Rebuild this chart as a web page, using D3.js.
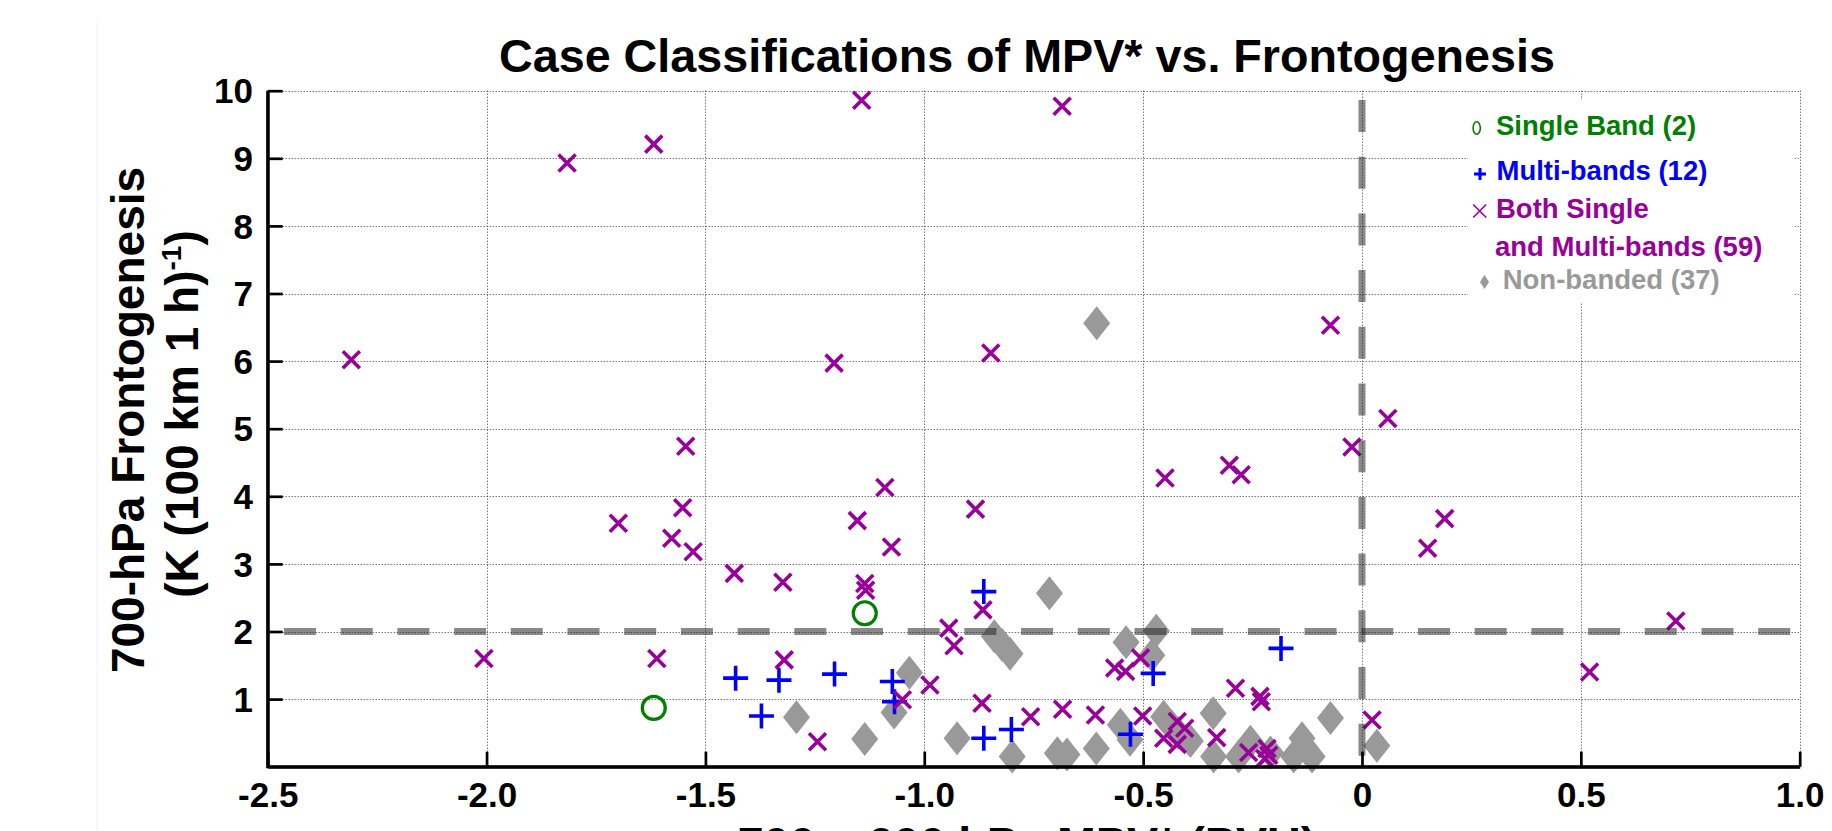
<!DOCTYPE html>
<html><head><meta charset="utf-8">
<script src="https://cdn.jsdelivr.net/npm/d3@7"></script>
<style>
html,body{margin:0;padding:0;background:#fff;}
svg{display:block;}
text{font-family:"Liberation Sans",Arial,Helvetica,sans-serif;font-weight:bold;}
</style></head><body>
<svg id="chart" width="1832" height="831"></svg>
<script>
// ---------------- data ----------------
const chartTitle = "Case Classifications of MPV* vs. Frontogenesis";
const xLabelText = "700 \u2013 600 hPa MPV* (PVU)";
const yLabelLine1 = "700-hPa Frontogenesis";
const yLabelLine2 = "(K (100 km 1 h)";
const yLabelSup = "-1";
const yLabelEnd = ")";

const xDomain = [-2.5, 1.0];
const yDomain = [0, 10];
const xTickValues = [-2.5, -2.0, -1.5, -1.0, -0.5, 0, 0.5, 1.0];
const xTickLabels = ["-2.5", "-2.0", "-1.5", "-1.0", "-0.5", "0", "0.5", "1.0"];
const yTickValues = [1, 2, 3, 4, 5, 6, 7, 8, 9, 10];
const yTickLabels = ["1", "2", "3", "4", "5", "6", "7", "8", "9", "10"];

const thresholdMPV = 0;
const thresholdFgen = 2;

const legendLabels = ["Single Band (2)", "Multi-bands (12)", "Both Single", "and Multi-bands (59)", "Non-banded (37)"];

// Single band cases (green circles)
const singleMPV  = [-1.618, -1.136];
const singleFgen = [0.87, 2.27];

// Multi-band cases (blue plus)
const multiMPV  = [-1.431, -1.372, -1.332, -1.205, -1.073, -1.068, -0.864, -0.864, -0.801, -0.529, -0.477, -0.185];
const multiFgen = [1.31, 0.75, 1.28, 1.37, 1.26, 0.96, 2.59, 0.42, 0.55, 0.48, 1.38, 1.75];

// Both single and multi-band cases (purple x)
const bothMPV  = [-2.309, -2.006, -1.816, -1.618, -1.699, -1.611, -1.577, -1.552, -1.545, -1.528,
                  -1.434, -1.323, -1.320, -1.244, -1.206, -1.153, -1.143, -1.136, -1.134, -1.090,
                  -1.075, -1.050, -0.987, -0.944, -0.932, -0.883, -0.866, -0.868, -0.848, -0.757,
                  -0.685, -0.684, -0.609, -0.565, -0.540, -0.506, -0.501, -0.453, -0.450, -0.422,
                  -0.405, -0.422, -0.332, -0.303, -0.289, -0.276, -0.233, -0.230, -0.259, -0.217,
                  -0.213, -0.222, -0.072, -0.023, 0.023, 0.059, 0.150, 0.189, 0.520, 0.717];
const bothFgen = [6.02, 1.60, 8.93, 9.21, 3.60, 1.60, 3.38, 3.83, 4.74, 3.18,
                  2.86, 2.73, 1.58, 0.37, 5.97, 3.64, 9.86, 2.71, 2.61, 4.13,
                  3.25, 0.99, 1.21, 2.05, 1.79, 3.81, 2.32, 0.94, 6.12, 0.74,
                  9.77, 0.85, 0.765, 1.46, 1.41, 1.61, 0.75, 0.42, 4.27, 0.67,
                  0.57, 0.33, 0.43, 4.46, 1.16, 4.32, 1.04, 0.96, 0.21, 0.27,
                  0.17, 0.12, 6.53, 4.73, 0.69, 5.15, 3.23, 3.67, 1.40, 2.155];

// Non-banded cases (grey diamonds)
const nonMPV  = [-1.292, -1.136, -1.069, -1.034, -0.925, -0.840, -0.822, -0.804, -0.799, -0.714,
                 -0.696, -0.674, -0.607, -0.606, -0.552, -0.530, -0.539, -0.470, -0.480, -0.453,
                 -0.435, -0.420, -0.392, -0.340, -0.339, -0.282, -0.255, -0.209, -0.156, -0.137,
                 -0.130, -0.114, -0.072, 0.034];
const nonFgen = [0.73, 0.41, 0.80, 1.39, 0.42, 1.93, 1.80, 1.67, 0.15, 2.565,
                 0.20, 0.18, 0.27, 6.56, 0.62, 0.40, 1.84, 2.01, 1.65, 0.74,
                 0.60, 0.50, 0.38, 0.79, 0.15, 0.15, 0.37, 0.21, 0.15, 0.42,
                 0.28, 0.15, 0.72, 0.31];

// ---------------- drawing ----------------
const W = 1832, H = 831;
const plot = {left: 267.7, right: 1799.7, top: 90.7, bottom: 766.7};
const colors = {single: "rgb(0,128,0)", multi: "rgb(0,0,255)", both: "rgb(153,0,153)", non: "rgb(153,153,153)"};

const svg = d3.select("#chart");
svg.append("rect").attr("width", W).attr("height", H).attr("fill", "#fff");
svg.append("line").attr("x1", 97).attr("x2", 97).attr("y1", 22).attr("y2", H)
   .attr("stroke", "#f1f1f1").attr("stroke-width", 1);

const x = d3.scaleLinear().domain(xDomain).range([plot.left, plot.right]);
const y = d3.scaleLinear().domain(yDomain).range([plot.bottom, plot.top]);
const crisp = v => Math.round(v) + 0.5;

// grid
const grid = svg.append("g").attr("class", "grid");
grid.selectAll("line.gx").data(xTickValues.filter(v => v > xDomain[0])).enter().append("line")
  .attr("x1", d => crisp(x(d))).attr("x2", d => crisp(x(d))).attr("y1", y(yDomain[0])).attr("y2", y(yDomain[1]))
  .attr("stroke", "#3a3a3a").attr("stroke-width", 1).attr("stroke-dasharray", "1,2");
grid.selectAll("line.gy").data(yTickValues).enter().append("line")
  .attr("y1", d => crisp(y(d))).attr("y2", d => crisp(y(d))).attr("x1", x(xDomain[0])).attr("x2", x(xDomain[1]))
  .attr("stroke", "#3a3a3a").attr("stroke-width", 1).attr("stroke-dasharray", "1,2");

// markers
const diamondPath = "M0,-17L13.5,0L0,17L-13.5,0Z";
const plusPath = "M-12.5,0H12.5M0,-12.5V12.5";
const crossPath = "M-8.5,-8.5L8.5,8.5M-8.5,8.5L8.5,-8.5";

const nonData = nonMPV.map((v, i) => [v, nonFgen[i]]);
const singleData = singleMPV.map((v, i) => [v, singleFgen[i]]);
const multiData = multiMPV.map((v, i) => [v, multiFgen[i]]);
const bothData = bothMPV.map((v, i) => [v, bothFgen[i]]);

svg.append("g").selectAll("path").data(nonData).enter().append("path")
  .attr("d", diamondPath).attr("transform", d => `translate(${x(d[0])},${y(d[1])})`)
  .attr("fill", colors.non);
svg.append("g").selectAll("circle").data(singleData).enter().append("circle")
  .attr("cx", d => x(d[0])).attr("cy", d => y(d[1])).attr("r", 11.5)
  .attr("fill", "none").attr("stroke", colors.single).attr("stroke-width", 3.2);
svg.append("g").selectAll("path").data(multiData).enter().append("path")
  .attr("d", plusPath).attr("transform", d => `translate(${x(d[0])},${y(d[1])})`)
  .attr("fill", "none").attr("stroke", colors.multi).attr("stroke-width", 3.6);
svg.append("g").selectAll("path").data(bothData).enter().append("path")
  .attr("d", crossPath).attr("transform", d => `translate(${x(d[0])},${y(d[1])})`)
  .attr("fill", "none").attr("stroke", colors.both).attr("stroke-width", 3.6);

// threshold dashed lines
const line = d3.line().x(d => x(d[0])).y(d => y(d[1]));
svg.append("path").attr("d", line([[xDomain[0], thresholdFgen], [xDomain[1], thresholdFgen]]))
  .attr("stroke", "rgba(40,40,40,0.55)").attr("stroke-width", 7).attr("fill", "none")
  .attr("stroke-dasharray", "32,24.7").attr("stroke-dashoffset", 40.4);
svg.append("path").attr("d", line([[thresholdMPV, yDomain[1]], [thresholdMPV, yDomain[0]]]))
  .attr("stroke", "rgba(40,40,40,0.55)").attr("stroke-width", 7).attr("fill", "none")
  .attr("stroke-dasharray", "32,24.7").attr("stroke-dashoffset", 47.4);

// axes
const xAxis = d3.axisBottom(x).tickValues(xTickValues).tickFormat((d, i) => xTickLabels[i])
  .tickSizeInner(-15).tickSizeOuter(0).tickPadding(15.5);
const gx = svg.append("g").attr("transform", `translate(0,${plot.bottom})`).call(xAxis);
const yAxis = d3.axisLeft(y).tickValues(yTickValues).tickFormat((d, i) => yTickLabels[i])
  .tickSizeInner(-15).tickSizeOuter(0).tickPadding(14.7);
const gy = svg.append("g").attr("transform", `translate(${plot.left},0)`).call(yAxis);
[gx, gy].forEach(g => {
  g.select(".domain").attr("stroke", "#000").attr("stroke-width", 3);
  g.selectAll(".tick line").attr("stroke", "#000").attr("stroke-width", 2.7);
  g.selectAll(".tick text").attr("fill", "#000").style("font-size", "35px")
    .style("font-family", '"Liberation Sans",Arial,sans-serif').style("font-weight", "bold");
});
gx.selectAll(".tick text").attr("dy", "0.71em");
gy.selectAll(".tick text").attr("dy", "0.35em");
// corner join
svg.append("path").attr("d", `M${plot.left},${plot.top}V${plot.bottom}H${plot.right}`)
  .attr("fill", "none").attr("stroke", "#000").attr("stroke-width", 3).attr("stroke-linejoin", "miter");

// title
svg.append("text").attr("x", 1027).attr("y", 72).attr("text-anchor", "middle")
  .style("font-size", "46.7px").attr("fill", "#000").text(chartTitle);

// x label (cut off at the bottom edge, as in the original figure)
svg.append("text").attr("x", 1027).attr("y", 860).attr("text-anchor", "middle")
  .style("font-size", "46.7px").attr("fill", "#000").text(xLabelText);

// y label
svg.append("text").attr("transform", "translate(143.8,420) rotate(-90)").attr("text-anchor", "middle")
  .style("font-size", "46px").attr("fill", "#000").text(yLabelLine1);
const yl2 = svg.append("text").attr("transform", "translate(198,414) rotate(-90)").attr("text-anchor", "middle")
  .style("font-size", "46px").attr("fill", "#000");
yl2.append("tspan").text(yLabelLine2);
yl2.append("tspan").attr("dy", -17).style("font-size", "28px").text(yLabelSup);
yl2.append("tspan").attr("dy", 17).text(yLabelEnd);

// legend
const lg = svg.append("g");
lg.append("rect").attr("x", 1468).attr("y", 100).attr("width", 327).attr("height", 203).attr("fill", "#fff");
const legendRows = [
  {label: legendLabels[0], color: colors.single, x: 1496, y: 135},
  {label: legendLabels[1], color: colors.multi, x: 1496.5, y: 179.5},
  {label: legendLabels[2], color: colors.both, x: 1496, y: 217.5},
  {label: legendLabels[3], color: colors.both, x: 1495, y: 255.7},
  {label: legendLabels[4], color: colors.non, x: 1502.7, y: 289}
];
lg.selectAll("text").data(legendRows).enter().append("text")
  .attr("x", d => d.x).attr("y", d => d.y).attr("fill", d => d.color)
  .style("font-size", "27.5px").text(d => d.label);
lg.append("ellipse").attr("cx", 1476.7).attr("cy", 128).attr("rx", 3.6).attr("ry", 6.3)
  .attr("fill", "none").attr("stroke", colors.single).attr("stroke-width", 1.6);
lg.append("path").attr("d", "M-6,0H6M0,-6V6").attr("transform", "translate(1480,174)")
  .attr("stroke", colors.multi).attr("stroke-width", 3).attr("fill", "none");
lg.append("path").attr("d", "M-6.5,-6.5L6.5,6.5M-6.5,6.5L6.5,-6.5").attr("transform", "translate(1479.7,211)")
  .attr("stroke", colors.both).attr("stroke-width", 1.6).attr("fill", "none");
lg.append("path").attr("d", "M0,-7L4.5,0L0,7L-4.5,0Z").attr("transform", "translate(1484.5,282)")
  .attr("fill", colors.non);
</script>
</body></html>
